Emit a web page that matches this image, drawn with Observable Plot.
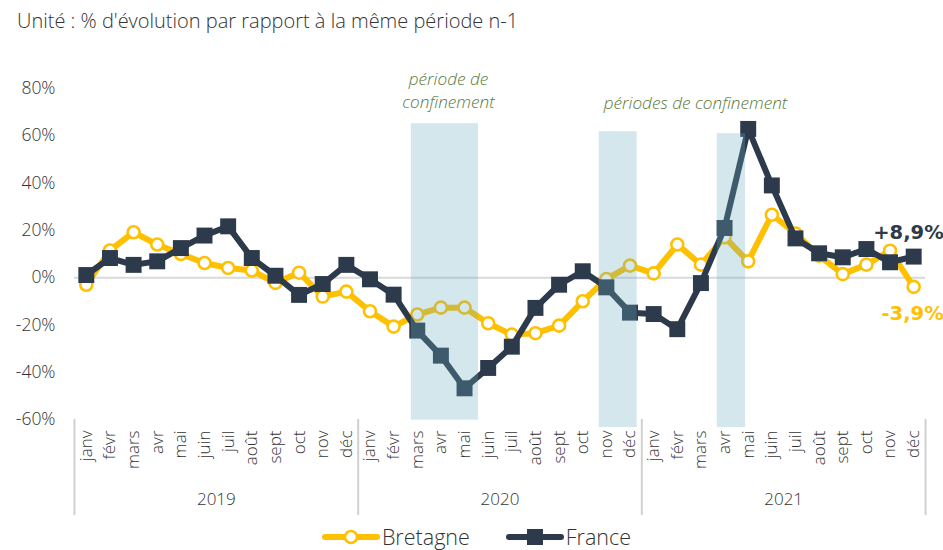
<!DOCTYPE html>
<html>
<head>
<meta charset="utf-8">
<script src="https://cdn.jsdelivr.net/npm/d3@7"></script>
<script src="https://cdn.jsdelivr.net/npm/@observablehq/plot@0.6"></script>
<style>
  html, body { margin: 0; padding: 0; background: #fff; }
  body { width: 943px; height: 550px; overflow: hidden; font-family: "Open Sans", Roboto, sans-serif; font-weight: 300; color: #333; }
  #title { height: 44px; box-sizing: border-box; padding: 8px 0 0 17px; font-size: 20px; line-height: 26px; color: #333; }
  #legend { height: 34px; box-sizing: border-box; padding-top: 8px; display: flex; justify-content: center; align-items: center; gap: 36px; font-size: 21.5px; line-height: 24px; color: #333; margin-left: 10px; }
  #legend .item { display: flex; align-items: center; gap: 2px; }
</style>
</head>
<body>
<div id="title">Unité : % d'évolution par rapport à la même période n-1</div>
<div id="chart"></div>
<div id="legend"></div>
<script>
// ---- data ----
const months = ["janv","févr","mars","avr","mai","juin","juil","août","sept","oct","nov","déc"];
const years = ["2019","2020","2021"];
const bretagne = [
  -3.0, 11.5, 19.2, 14.0, 10.0, 6.2, 4.1, 3.0, -2.2, 2.1, -8.0, -5.9,
  -14.2, -20.7, -15.6, -12.7, -12.7, -19.3, -24.1, -23.5, -20.3, -10.0, -0.6, 5.1,
  1.8, 14.0, 5.5, 17.1, 6.9, 26.6, 18.7, 9.3, 1.5, 5.5, 11.4, -3.9
];
const france = [
  1.1, 8.3, 5.4, 6.9, 12.5, 17.8, 21.7, 8.3, 0.8, -7.3, -2.7, 5.4,
  -0.7, -7.2, -22.4, -33.0, -46.8, -38.2, -29.2, -12.8, -3.0, 2.7, -4.1, -14.8,
  -15.4, -21.8, -2.3, 21.0, 62.9, 39.0, 16.6, 10.3, 8.6, 12.1, 6.5, 8.9
];
const yTicks = [-60, -40, -20, 0, 20, 40, 60, 80];
// lockdown shaded periods (month index units, value units)
const periodStart = [13.75, 21.7, 26.69];
const periodEnd   = [16.59, 23.3, 27.89];
const periodTop   = [65.1, 61.7, 60.9];
const periodBottom= [-60.3, -63.4, -63.4];
const noteText = ["période de\nconfinement", "périodes de confinement"];
const noteX = [15.32, 25.77];
const noteY = [79.6, 74.5];
const endLabels = ["-3,9%", "+8,9%"];

// ---- derived tables ----
const n = bretagne.length;
const rows = d3.range(n).map(i => ({i, month: months[i % 12], bretagne: bretagne[i], france: france[i]}));
const periods = periodStart.map((s, k) => ({x1: s, x2: periodEnd[k], y1: periodBottom[k], y2: periodTop[k]}));
const notes = noteText.map((t, k) => ({text: t, x: noteX[k], y: noteY[k]}));
const monthTicks = d3.range(n);
const yearTicks = years.map((y, k) => 12 * k + 5.5);
const sepTicks = [-0.5, 11.5, 23.5, 35.5];

const YELLOW = "#FFC000";
const NAVY = "#2c3a4b";
const TXT = "#333333";
const FONT = "'Open Sans', Roboto, sans-serif";

const plot = Plot.plot({
  width: 943,
  height: 472,
  marginTop: 44,
  marginBottom: 97,
  marginLeft: 74,
  marginRight: 18,
  style: {fontFamily: FONT, fontSize: "16px", color: TXT, background: "#fff", overflow: "visible"},
  x: {domain: [-0.5, n - 0.5], label: null},
  y: {domain: [-60, 80], label: null},
  marks: [
    Plot.axisY(yTicks, {tickSize: 0, tickPadding: 19, tickFormat: d => d + "%", fontSize: 17.5, fontWeight: 300, label: null}),
    Plot.axisX(monthTicks, {tickSize: 0, tickPadding: 11, tickRotate: -90, tickFormat: i => months[i % 12], fontSize: 17, fontWeight: 300, label: null}),
    Plot.axisX(yearTicks, {tickSize: 0, tickPadding: 73, tickFormat: (d) => years[Math.round((d - 5.5) / 12)], fontSize: 17, fontWeight: 300, label: null}),
    Plot.axisX(sepTicks, {tickSize: 96, stroke: "#d0d0d0", strokeWidth: 2, strokeOpacity: 1, tickFormat: () => "", label: null}),
    Plot.ruleY([0], {stroke: "#d9d9d9", strokeWidth: 2}),
    Plot.line(rows, {x: "i", y: "bretagne", stroke: YELLOW, strokeWidth: 6, strokeLinejoin: "round", strokeLinecap: "round"}),
    Plot.dot(rows, {x: "i", y: "bretagne", r: 6, fill: "white", stroke: YELLOW, strokeWidth: 2.6}),
    Plot.line(rows, {x: "i", y: "france", stroke: NAVY, strokeWidth: 6, strokeLinejoin: "round", strokeLinecap: "round"}),
    Plot.dot(rows, {x: "i", y: "france", symbol: "square", r: 9, fill: NAVY, stroke: "none"}),
    Plot.rect(periods, {x1: "x1", x2: "x2", y1: "y1", y2: "y2", fill: "#66adbd", fillOpacity: 0.29}),
    Plot.text(notes, {x: "x", y: "y", text: "text", fill: "#5a7a3a", fontStyle: "italic", fontSize: 17.2, fontWeight: 300, lineHeight: 1.35, textAnchor: "middle"}),
    Plot.text(rows.slice(-1), {x: "i", y: "france", text: () => endLabels[1], fill: NAVY, fontFamily: "'DejaVu Sans', sans-serif", fontWeight: "bold", fontSize: 19.5, textAnchor: "end", dx: 30, dy: -24}),
    Plot.text(rows.slice(-1), {x: "i", y: "bretagne", text: () => endLabels[0], fill: YELLOW, fontFamily: "'DejaVu Sans', sans-serif", fontWeight: "bold", fontSize: 19.5, textAnchor: "end", dx: 30, dy: 27})
  ]
});
document.getElementById("chart").appendChild(plot);

// ---- legend ----
const legend = document.getElementById("legend");
const items = [
  {name: "Bretagne", color: YELLOW, marker: "circle"},
  {name: "France", color: NAVY, marker: "square"}
];
for (const it of items) {
  const div = document.createElement("div");
  div.className = "item";
  const ns = "http://www.w3.org/2000/svg";
  const s = document.createElementNS(ns, "svg");
  s.setAttribute("width", 58); s.setAttribute("height", 20);
  const l = document.createElementNS(ns, "line");
  l.setAttribute("x1", 3); l.setAttribute("x2", 55); l.setAttribute("y1", 10); l.setAttribute("y2", 10);
  l.setAttribute("stroke", it.color); l.setAttribute("stroke-width", 6); l.setAttribute("stroke-linecap", "round");
  s.appendChild(l);
  if (it.marker === "circle") {
    const c = document.createElementNS(ns, "circle");
    c.setAttribute("cx", 29); c.setAttribute("cy", 10); c.setAttribute("r", 6);
    c.setAttribute("fill", "white"); c.setAttribute("stroke", it.color); c.setAttribute("stroke-width", 2.6);
    s.appendChild(c);
  } else {
    const r = document.createElementNS(ns, "rect");
    r.setAttribute("x", 21); r.setAttribute("y", 2); r.setAttribute("width", 16); r.setAttribute("height", 16);
    r.setAttribute("fill", it.color);
    s.appendChild(r);
  }
  const t = document.createElement("span");
  t.textContent = it.name;
  div.appendChild(s); div.appendChild(t);
  legend.appendChild(div);
}
</script>
</body>
</html>
